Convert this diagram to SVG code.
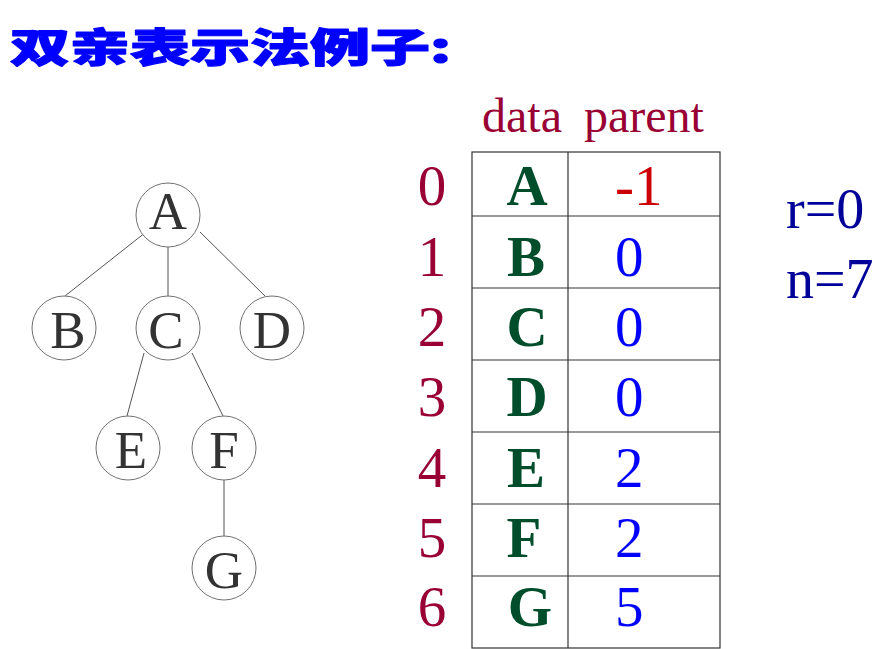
<svg xmlns="http://www.w3.org/2000/svg" width="887" height="649" viewBox="0 0 887 649">
<style>
.title{font-family:"Noto Sans CJK SC",sans-serif;font-weight:900;font-size:40px;fill:#0000FF;stroke:#0000FF;stroke-width:1.2;stroke-linejoin:round}
.node circle{fill:#fff;stroke:#707070;stroke-width:1}
.node text{font-family:"Liberation Serif",serif;font-size:53px;fill:#333;text-anchor:middle}
.edges line{stroke:#555;stroke-width:1}
.grid{fill:none;stroke:#333;stroke-width:1.2}
.hdr{font-family:"Liberation Serif",serif;font-size:48px;fill:#990033}
.idx{font-family:"Liberation Serif",serif;font-size:57px;fill:#990033;text-anchor:middle}
.dat{font-family:"Liberation Serif",serif;font-weight:bold;font-size:57px;fill:#004D2C;text-anchor:middle}
.par{font-family:"Liberation Serif",serif;font-size:57px;fill:#0000FF}
.neg{fill:#CC0000}
.info{font-family:"Liberation Serif",serif;font-size:56px;fill:#000099}
</style>
<rect width="887" height="649" fill="#fff"/>
<text class="title" transform="translate(10,62) scale(1.5,1)">双亲表示法例子:</text>

<g class="edges" id="connectors">
<line x1="146" y1="232" x2="65" y2="296"/>
<line x1="168" y1="247" x2="168" y2="296"/>
<line x1="200" y1="232" x2="265" y2="296"/>
<line x1="144" y1="353" x2="127" y2="416"/>
<line x1="192" y1="353" x2="223" y2="416"/>
<line x1="224" y1="480" x2="224" y2="536"/>
</g>

<g class="node" id="node-A"><circle cx="168" cy="215" r="32"/><text x="168" y="229">A</text></g>
<g class="node" id="node-B"><circle cx="64" cy="328" r="32"/><text x="68" y="348">B</text></g>
<g class="node" id="node-C"><circle cx="168" cy="328" r="32"/><text x="166" y="348">C</text></g>
<g class="node" id="node-D"><circle cx="272" cy="328" r="32"/><text x="272" y="348">D</text></g>
<g class="node" id="node-E"><circle cx="128" cy="448" r="32"/><text x="131" y="468">E</text></g>
<g class="node" id="node-F"><circle cx="224" cy="448" r="32"/><text x="224" y="468">F</text></g>
<g class="node" id="node-G"><circle cx="224" cy="568" r="32"/><text x="224" y="588">G</text></g>

<g id="table">
<text class="hdr" x="482" y="132">data</text>
<text class="hdr" x="584" y="132">parent</text>
<rect class="grid" x="472" y="152" width="248" height="496"/>
<line class="grid" x1="568" y1="152" x2="568" y2="648"/>
<line class="grid" x1="472" y1="216" x2="720" y2="216"/>
<line class="grid" x1="472" y1="288" x2="720" y2="288"/>
<line class="grid" x1="472" y1="360" x2="720" y2="360"/>
<line class="grid" x1="472" y1="432" x2="720" y2="432"/>
<line class="grid" x1="472" y1="504" x2="720" y2="504"/>
<line class="grid" x1="472" y1="576" x2="720" y2="576"/>

<text class="idx" x="432" y="205">0</text>
<text class="idx" x="432" y="276">1</text>
<text class="idx" x="432" y="346">2</text>
<text class="idx" x="432" y="416">3</text>
<text class="idx" x="432" y="487">4</text>
<text class="idx" x="432" y="557">5</text>
<text class="idx" x="432" y="626">6</text>

<text class="dat" x="527" y="205">A</text>
<text class="dat" x="526" y="276">B</text>
<text class="dat" x="527" y="346">C</text>
<text class="dat" x="527" y="416">D</text>
<text class="dat" x="526" y="487">E</text>
<text class="dat" x="524" y="557">F</text>
<text class="dat" x="530" y="626">G</text>

<text class="par neg" x="615" y="205">-1</text>
<text class="par" x="615" y="276">0</text>
<text class="par" x="615" y="346">0</text>
<text class="par" x="615" y="416">0</text>
<text class="par" x="615" y="487">2</text>
<text class="par" x="615" y="557">2</text>
<text class="par" x="615" y="626">5</text>
</g>

<g id="info">
<text class="info" x="786" y="228">r=0</text>
<text class="info" x="786" y="298">n=7</text>
</g>
</svg>
